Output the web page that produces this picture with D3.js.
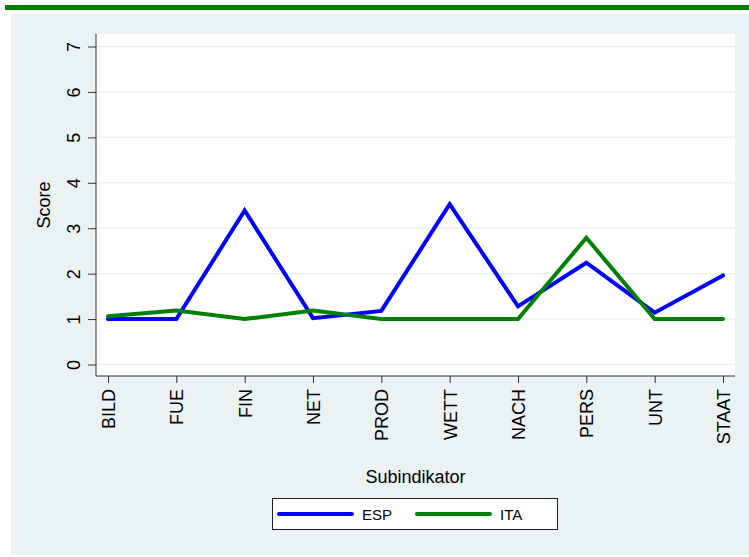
<!DOCTYPE html>
<html>
<head>
<meta charset="utf-8">
<script src="https://cdn.jsdelivr.net/npm/d3@7"></script>
<style>
  body { margin: 0; background: #fff; }
  text { font-family: "Liberation Sans", Arial, sans-serif; fill: #000; }
</style>
</head>
<body>
<svg id="mysvg" width="749" height="557"></svg>
<script>
var categories = ["BILD", "FUE", "FIN", "NET", "PROD", "WETT", "NACH", "PERS", "UNT", "STAAT"];
var esp = [1.0, 1.0, 3.39, 1.02, 1.18, 3.53, 1.28, 2.24, 1.14, 1.96];
var ita = [1.06, 1.19, 1.0, 1.19, 1.0, 1.0, 1.0, 2.79, 1.0, 1.0];
var yTicks = [0, 1, 2, 3, 4, 5, 6, 7];
var seriesNames = ["ESP", "ITA"];
var colors = ["#0000ff", "#008000"];

var svg = d3.select("#mysvg");
var bg = "#eaf2f3";

// frame: green bar on top, light panel behind
svg.append("rect").attr("x", 5).attr("y", 5).attr("width", 744).attr("height", 5).attr("fill", "#008000");
svg.append("rect").attr("x", 11).attr("y", 14).attr("width", 738).attr("height", 541).attr("fill", bg);

var plot = {left: 96, right: 735, top: 34, bottom: 376};
svg.append("rect")
  .attr("x", plot.left).attr("y", plot.top)
  .attr("width", plot.right - plot.left).attr("height", plot.bottom - plot.top)
  .attr("fill", "#fff");

var x = d3.scalePoint().domain(categories).range([108, 723]);
var y = d3.scaleLinear().domain([0, 7]).range([364.5, 46.5]);

// grid
svg.append("g").selectAll("line").data(yTicks).join("line")
  .attr("x1", plot.left).attr("x2", plot.right)
  .attr("y1", d => y(d)).attr("y2", d => y(d))
  .attr("stroke", bg).attr("stroke-width", 1.5);

// y axis
var yAxis = svg.append("g").attr("transform", "translate(" + plot.left + ",0)")
  .call(d3.axisLeft(y).tickValues(yTicks).tickSize(8).tickPadding(0).tickFormat(d3.format("d")));
yAxis.select(".domain").attr("d", "M0," + plot.top + "V" + plot.bottom).attr("stroke", "#333");
yAxis.selectAll(".tick line").attr("stroke", "#333");
yAxis.selectAll(".tick text")
  .attr("x", null).attr("dy", null)
  .attr("transform", "translate(-16,0) rotate(-90)")
  .attr("text-anchor", "middle")
  .style("font-size", "18px").style("font-family", "'Liberation Sans', Arial, sans-serif");

// x axis
var xAxis = svg.append("g").attr("transform", "translate(0," + plot.bottom + ")")
  .call(d3.axisBottom(x).tickSize(7).tickPadding(0));
xAxis.select(".domain").attr("d", "M" + plot.left + ",0H" + plot.right).attr("stroke", "#333");
xAxis.selectAll(".tick line").attr("stroke", "#333");
xAxis.selectAll(".tick text")
  .attr("y", null).attr("dy", null)
  .attr("transform", "translate(6.5,13) rotate(-90)")
  .attr("text-anchor", "end")
  .style("font-size", "18px").style("font-family", "'Liberation Sans', Arial, sans-serif");

// axis titles
svg.append("text").attr("transform", "translate(50,205) rotate(-90)")
  .attr("text-anchor", "middle").style("font-size", "18px").text("Score");
svg.append("text").attr("x", 415.5).attr("y", 483)
  .attr("text-anchor", "middle").style("font-size", "18px").text("Subindikator");

// lines
var line = d3.line().x((d, i) => x(categories[i])).y(d => y(d));
[esp, ita].forEach(function(s, k) {
  svg.append("path").datum(s)
    .attr("d", line)
    .attr("fill", "none")
    .attr("stroke", colors[k])
    .attr("stroke-width", 4)
    .attr("stroke-linejoin", "miter")
    .attr("stroke-linecap", "round");
});

// legend
svg.append("rect").attr("x", 272.5).attr("y", 498.5).attr("width", 285).attr("height", 31)
  .attr("fill", "#fff").attr("stroke", "#222").attr("stroke-width", 1);
var legX = [279, 417];
seriesNames.forEach(function(name, k) {
  svg.append("line").attr("x1", legX[k]).attr("x2", legX[k] + 73)
    .attr("y1", 514).attr("y2", 514)
    .attr("stroke", colors[k]).attr("stroke-width", 4).attr("stroke-linecap", "round");
  svg.append("text").attr("x", legX[k] + 83).attr("y", 519.5)
    .style("font-size", "15px").text(name);
});
</script>
</body>
</html>
